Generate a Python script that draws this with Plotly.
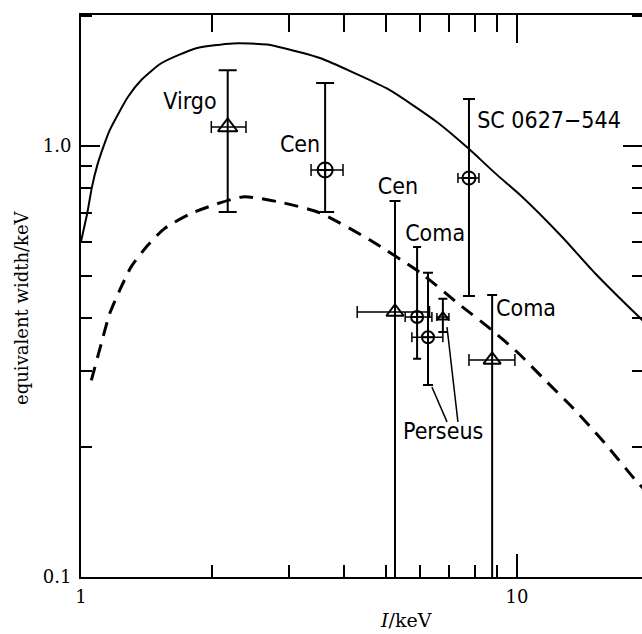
import plotly.graph_objects as go

# ---------------- data ----------------
# Solid model curve
solid_x = [1.0, 1.034, 1.060, 1.090, 1.129, 1.164, 1.282, 1.375, 1.528, 1.838,
           2.23, 2.67, 3.18, 3.53, 5.03, 6.55, 7.72, 8.92, 10.27, 12.68, 15.12,
           19.01, 20.0]
solid_y = [0.600, 0.700, 0.805, 0.903, 1.005, 1.089, 1.301, 1.423, 1.556, 1.686,
           1.73, 1.72, 1.65, 1.60, 1.36, 1.137, 0.989, 0.864, 0.763, 0.616, 0.506,
           0.402, 0.383]

# Dashed model curve
dash_x = [1.056, 1.113, 1.164, 1.227, 1.304, 1.424, 1.556, 1.79, 2.35, 2.91, 3.53,
          4.60, 6.0, 7.48, 8.76, 10.09, 11.61, 13.37, 15.67, 18.68, 20.0]
dash_y = [0.286, 0.348, 0.409, 0.463, 0.525, 0.589, 0.644, 0.698, 0.762, 0.738,
          0.700, 0.605, 0.508, 0.424, 0.374, 0.330, 0.286, 0.248, 0.208, 0.168, 0.156]

# Measurements
src_names = ["Virgo", "Cen", "SC 0627\u2212544", "Cen", "Coma", "Perseus", "Perseus", "Coma"]
pt_x = [2.17, 3.63, 7.76, 5.25, 5.90, 6.25, 6.76, 8.77]
pt_y = [1.107, 0.880, 0.843, 0.412, 0.401, 0.360, 0.401, 0.319]
pt_y_hi = [1.50, 1.40, 1.285, 0.745, 0.583, 0.508, 0.442, 0.451]
pt_y_lo = [0.703, 0.703, 0.449, 0.0, 0.321, 0.279, 0.370, 0.0]
pt_x_lo = [1.99, 3.37, 7.32, 4.30, 5.54, 5.74, 6.55, 7.76]
pt_x_hi = [2.39, 3.99, 8.18, 6.30, 6.38, 6.76, 6.98, 9.89]

# tick values
x_major = [1, 10]
x_major_text = ["1", "10"]
x_minor = [2, 3, 4, 5, 6, 7, 8, 9, 20]
y_major = [0.1, 1.0]
y_major_text = ["0.1", "1.0"]
y_minor = [0.2, 0.3, 0.4, 0.5, 0.6, 0.7, 0.8, 0.9, 2.0]

# label texts and anchor positions (data units)
label_text = ["Virgo", "Cen", "SC 0627\u2212544", "Cen", "Coma", "Coma", "Perseus"]
label_x = [1.778, 3.18, 11.84, 5.33, 6.49, 10.49, 6.77]
label_y = [1.258, 1.0, 1.137, 0.799, 0.622, 0.416, 0.216]

# leader lines from "Perseus" label
leader_a_x = [6.91, 6.38]
leader_a_y = [0.229, 0.276]
leader_b_x = [7.32, 6.91]
leader_b_y = [0.229, 0.380]

# ---------------- styles ----------------
marker_symbols = ["triangle-up-open", "circle-cross-open", "circle-cross-open",
                  "triangle-up-open", "circle-cross-open", "circle-cross-open",
                  "triangle-up-open", "triangle-up-open"]
marker_sizes = [17, 15, 13, 15, 12, 12, 10, 15]
cap_y = [9, 9, 6, 5.5, 4, 5, 4.5, 5]
cap_x = [6, 6, 5, 6, 5, 5, 4, 6]

fig = go.Figure()

fig.add_trace(go.Scatter(x=solid_x, y=solid_y, mode="lines",
                         line=dict(color="black", width=2, shape="spline", smoothing=0.6),
                         hoverinfo="skip", showlegend=False))
fig.add_trace(go.Scatter(x=dash_x, y=dash_y, mode="lines",
                         line=dict(color="black", width=3, shape="spline", smoothing=0.6,
                                   dash="14px,9px"),
                         hoverinfo="skip", showlegend=False))

for i in range(len(pt_x)):
    fig.add_trace(go.Scatter(
        x=[pt_x[i]], y=[pt_y[i]], mode="markers",
        marker=dict(symbol=marker_symbols[i], size=marker_sizes[i], color="black",
                    line=dict(color="black", width=2)),
        error_y=dict(type="data", symmetric=False,
                     array=[pt_y_hi[i] - pt_y[i]],
                     arrayminus=[pt_y[i] - pt_y_lo[i]],
                     color="black", thickness=2, width=cap_y[i]),
        error_x=dict(type="data", symmetric=False,
                     array=[pt_x_hi[i] - pt_x[i]],
                     arrayminus=[pt_x[i] - pt_x_lo[i]],
                     color="black", thickness=1.5, width=cap_x[i]),
        name=src_names[i], showlegend=False))

for lx, ly in [(leader_a_x, leader_a_y), (leader_b_x, leader_b_y)]:
    fig.add_trace(go.Scatter(x=lx, y=ly, mode="lines",
                             line=dict(color="black", width=1.5),
                             hoverinfo="skip", showlegend=False))

fig.add_trace(go.Scatter(x=label_x, y=label_y, mode="text", text=label_text,
                         textposition="middle center",
                         textfont=dict(family="DejaVu Sans Condensed, DejaVu Sans", size=23, color="black"),
                         hoverinfo="skip", showlegend=False))

# invisible traces to activate the overlay axes
fig.add_trace(go.Scatter(x=[None], y=[None], xaxis="x2", yaxis="y", showlegend=False, hoverinfo="skip"))
fig.add_trace(go.Scatter(x=[None], y=[None], xaxis="x", yaxis="y2", showlegend=False, hoverinfo="skip"))

x_range = [0, 1.2867]
y_range = [-1, 0.304]
tick_font = dict(family="DejaVu Serif", size=18, color="black")

fig.update_layout(
    width=642, height=634,
    margin=dict(l=81, r=0, t=15, b=57),
    paper_bgcolor="white", plot_bgcolor="white",
    showlegend=False,
    xaxis=dict(type="log", range=x_range, showgrid=False, zeroline=False,
               showline=True, linecolor="black", linewidth=2,
               tickmode="array", tickvals=x_major, ticktext=x_major_text,
               ticks="inside", ticklen=23, tickwidth=2, tickcolor="black",
               minor=dict(tickmode="array", tickvals=x_minor, ticks="inside",
                          ticklen=12, tickwidth=2, tickcolor="black", showgrid=False),
               tickfont=tick_font, ticklabelstandoff=2),
    xaxis2=dict(type="log", range=x_range, overlaying="x", side="top", anchor="y",
                showgrid=False, zeroline=False,
                showline=True, linecolor="black", linewidth=2,
                tickmode="array", tickvals=x_major, ticktext=["", ""],
                ticks="inside", ticklen=28, tickwidth=2, tickcolor="black",
                minor=dict(tickmode="array", tickvals=x_minor, ticks="inside",
                           ticklen=17, tickwidth=2, tickcolor="black", showgrid=False),
                showticklabels=False),
    yaxis=dict(type="log", range=y_range, showgrid=False, zeroline=False,
               showline=True, linecolor="black", linewidth=2,
               tickmode="array", tickvals=y_major, ticktext=y_major_text,
               ticks="inside", ticklen=19, tickwidth=2, tickcolor="black",
               minor=dict(tickmode="array", tickvals=y_minor, ticks="inside",
                          ticklen=11, tickwidth=2, tickcolor="black", showgrid=False),
               tickfont=tick_font, ticklabelstandoff=4),
    yaxis2=dict(type="log", range=y_range, overlaying="y", side="right", anchor="x",
                showgrid=False, zeroline=False, showline=False,
                tickmode="array", tickvals=y_major, ticktext=["", ""],
                ticks="inside", ticklen=19, tickwidth=2, tickcolor="black",
                minor=dict(tickmode="array", tickvals=y_minor, ticks="inside",
                           ticklen=10, tickwidth=2, tickcolor="black", showgrid=False),
                showticklabels=False),
    annotations=[
        dict(text="<i>I</i>/keV", xref="paper", yref="paper", x=0.579, y=-0.0765,
             xanchor="center", yanchor="middle", showarrow=False,
             font=dict(family="DejaVu Serif", size=19, color="black")),
        dict(text="equivalent width/keV", xref="paper", yref="paper", x=-0.105, y=0.479,
             xanchor="center", yanchor="middle", showarrow=False, textangle=-90,
             font=dict(family="DejaVu Serif", size=18, color="black")),
    ],
)

fig.write_html("out.html", config={"displayModeBar": False},
               post_script="document.body.style.margin='0px';document.body.style.overflow='hidden';")
